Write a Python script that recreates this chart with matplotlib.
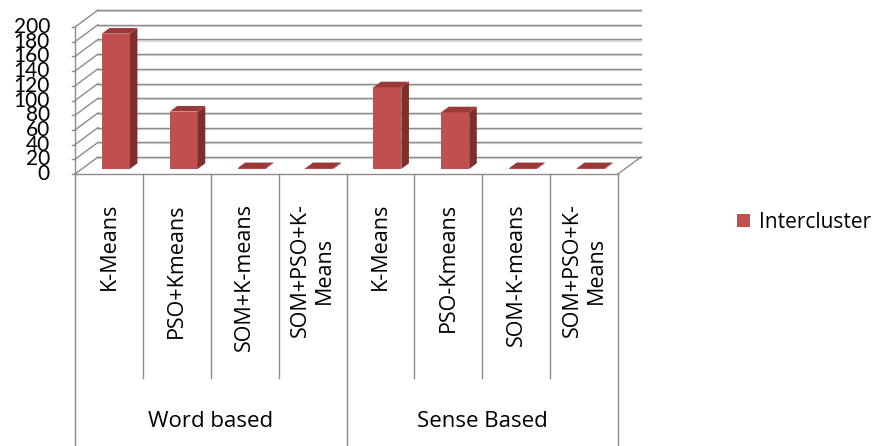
import matplotlib
matplotlib.use("Agg")
import matplotlib.pyplot as plt
from matplotlib.patches import Polygon, Patch

plt.rcParams['font.family'] = ['Open Sans', 'DejaVu Sans']

# ---- data ----
groups = ["Word based", "Sense Based"]
methods = ["K-Means", "PSO+Kmeans", "SOM+K-means", "SOM+PSO+K-\nMeans",
           "K-Means", "PSO-Kmeans", "SOM-K-means", "SOM+PSO+K-\nMeans"]
intercluster = [184, 78, 1, 1, 111, 77, 1, 1]
yticks = [0, 20, 40, 60, 80, 100, 120, 140, 160, 180, 200]
series_name = "Intercluster"

# ---- styling ----
W, H, DPI = 877, 446, 100
X0_PX, CAT_PX = 75, 67.875          # left edge of the floor, width of one category
FLOOR_PX, VAL_PX = 174, 0.735       # front floor line (from top), pixels per unit
DX = 23 / CAT_PX                    # depth offset of the back wall, in data units
DY = 17 / VAL_PX
FRONT, DEPTH = 0.30, 0.33           # bar position / thickness inside the depth
BAR_W = 28 / CAT_PX
C_FRONT, C_SIDE, C_TOP = "#C0504D", "#7F2E2C", "#9A3A38"
GRID, GRID_SHADOW = "#8C8C8C", "#DADADA"
TXT = "#000000"

fig = plt.figure(figsize=(W / DPI, H / DPI), dpi=DPI)
ax = fig.add_axes([0, 0, 1, 1])
ax.set_xlim(-X0_PX / CAT_PX, (W - X0_PX) / CAT_PX)
ax.set_ylim(-(H - FLOOR_PX) / VAL_PX, FLOOR_PX / VAL_PX)
ax.axis("off")

n = len(methods)
vmax = yticks[-1]

# back wall and left side wall gridlines
for v in yticks:
    ax.plot([DX, n + DX], [v + DY - 1.6, v + DY - 1.6], color=GRID_SHADOW, lw=1.6, zorder=1)
    ax.plot([DX, n + DX], [v + DY, v + DY], color=GRID, lw=1.0, zorder=1)
    ax.plot([0, DX], [v, v + DY], color=GRID, lw=1.0, zorder=1)
    ax.plot([-3 / CAT_PX, 0], [v, v], color=GRID, lw=1.0, zorder=1)

# box edges
ax.plot([0, 0], [0, vmax], color=GRID, lw=1.0, zorder=1)
ax.plot([0, n], [0, 0], color=GRID, lw=1.0, zorder=1)
ax.plot([n, n + DX], [0, DY], color=GRID, lw=1.0, zorder=1)

# bars: front faces through bar(), then side and top faces
lefts = [i + 0.5 - BAR_W / 2 + FRONT * DX for i in range(n)]
base = FRONT * DY
ax.bar(lefts, intercluster, width=BAR_W, bottom=base, align="edge",
       color=C_FRONT, edgecolor="none", zorder=3)
ddx, ddy = DEPTH * DX, DEPTH * DY
for x, v in zip(lefts, intercluster):
    top = base + v
    side = Polygon([(x + BAR_W, base), (x + BAR_W + ddx, base + ddy),
                    (x + BAR_W + ddx, top + ddy), (x + BAR_W, top)],
                   closed=True, facecolor=C_SIDE, edgecolor="none", zorder=3)
    cap = Polygon([(x, top), (x + BAR_W, top), (x + BAR_W + ddx, top + ddy),
                   (x + ddx, top + ddy)],
                  closed=True, facecolor=C_TOP, edgecolor="none", zorder=3)
    ax.add_patch(side)
    ax.add_patch(cap)

# y tick labels
for v in yticks:
    ax.text(-25 / CAT_PX, v, str(v), ha="right", va="center",
            fontsize=15, color=TXT, zorder=4, family=["Lato", "DejaVu Sans"])

# category table below the floor
inner_bottom = -(378 - FLOOR_PX) / VAL_PX
outer_bottom = -(H - FLOOR_PX) / VAL_PX
per_group = n // len(groups)
for i in range(n + 1):
    bottom = outer_bottom if i % per_group == 0 else inner_bottom
    ax.plot([i, i], [0, bottom], color=GRID, lw=1.0, zorder=1)

label_top = -(203 - FLOOR_PX) / VAL_PX
for i, name in enumerate(methods):
    ax.text(i + 0.5, label_top, name, rotation=90, ha="center", va="top",
            multialignment="center", fontsize=15.5, color=TXT, linespacing=1.2)

group_y = -(421 - FLOOR_PX) / VAL_PX
for g, name in enumerate(groups):
    ax.text(g * per_group + per_group / 2, group_y, name, ha="center",
            va="center", fontsize=16, color=TXT)

# legend
fig.legend(handles=[Patch(facecolor=C_FRONT, edgecolor="none", label=series_name)],
           loc="center left", bbox_to_anchor=(727 / W, 1 - 222 / H),
           frameon=False, fontsize=15, handlelength=0.6, handleheight=0.6,
           handletextpad=0.45, borderpad=0)

fig.savefig("out.png", dpi=DPI)
